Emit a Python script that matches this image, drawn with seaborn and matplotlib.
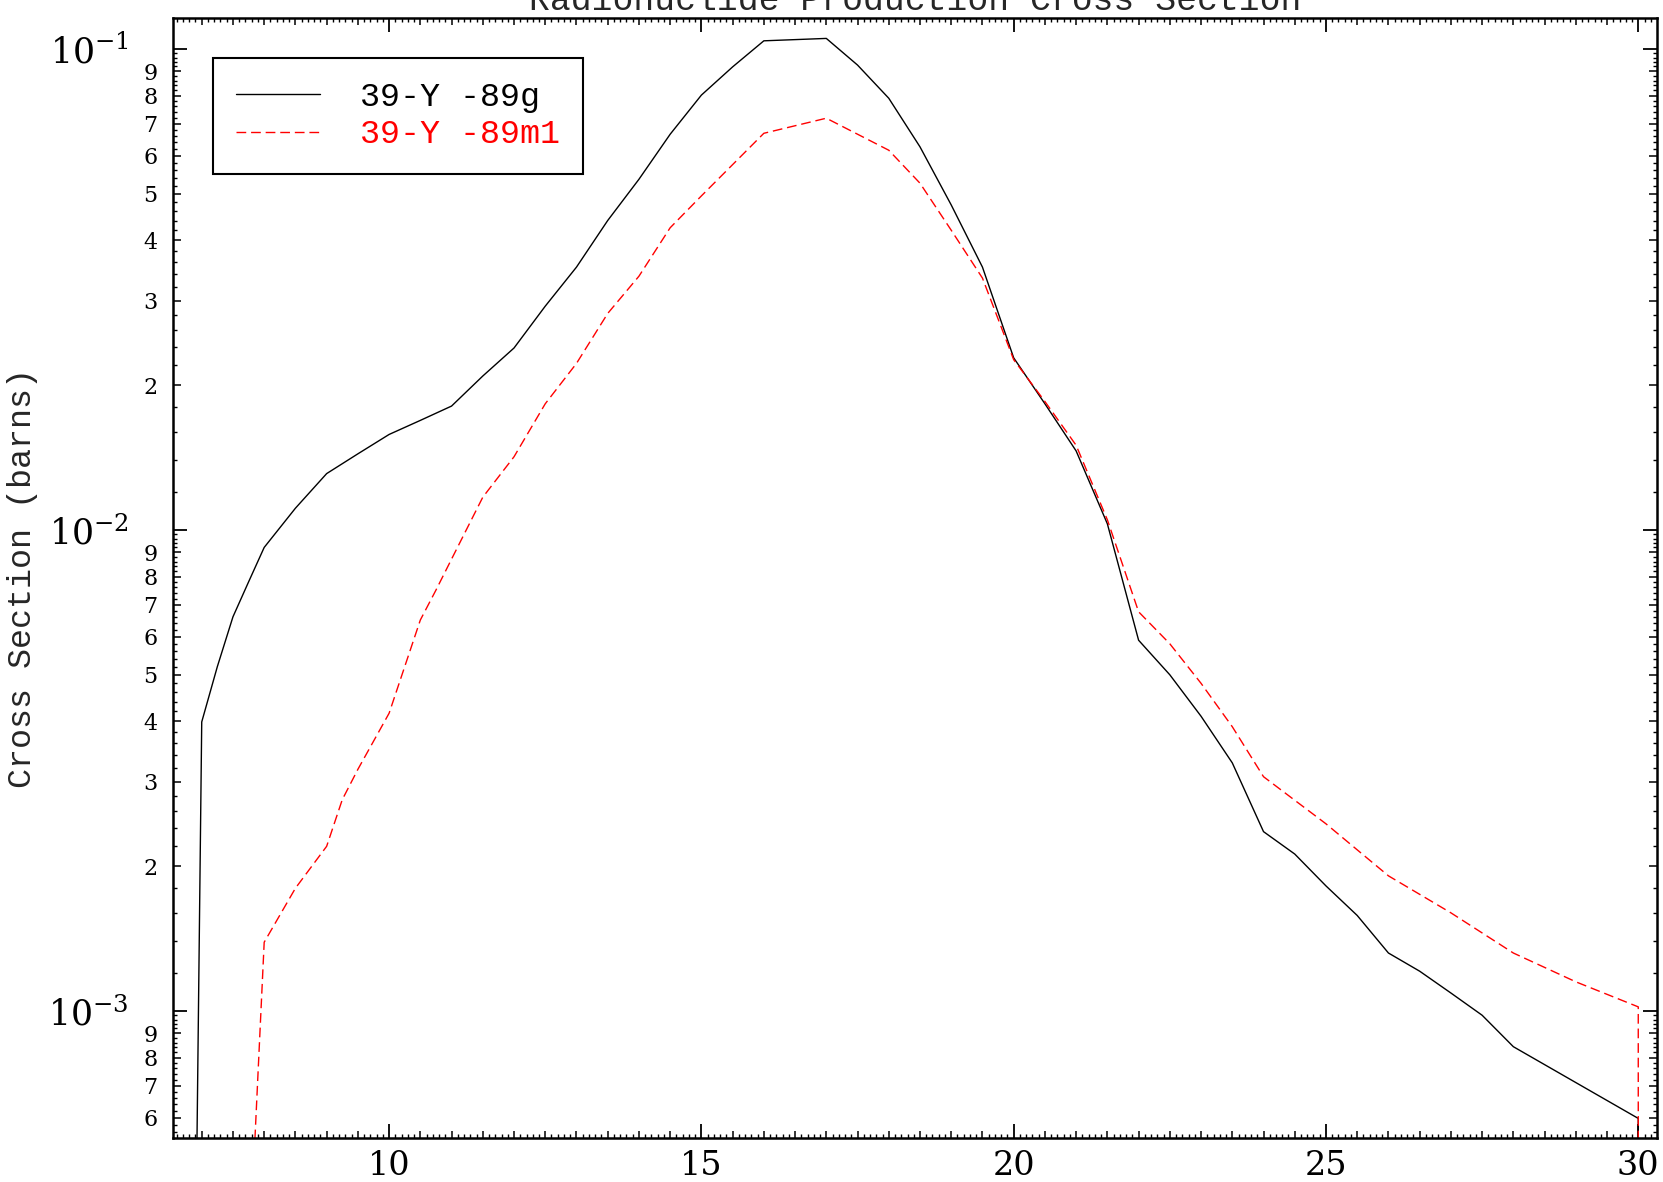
import numpy as np
import pandas as pd
import matplotlib
matplotlib.use("Agg")
import matplotlib.pyplot as plt
import seaborn as sns
from matplotlib.ticker import FixedLocator, FixedFormatter, NullFormatter, NullLocator

# ---------------- data ----------------
energy_g = [6.86, 7.0, 7.25, 7.5, 7.75, 8.0, 8.5, 9.0, 9.5, 10.0, 10.5, 11.0, 11.5, 12.0,
            12.5, 13.0, 13.5, 14.0, 14.5, 15.0, 15.5, 16.0, 17.0, 17.5, 18.0, 18.5, 19.0,
            19.5, 20.0, 20.5, 21.0, 21.5, 22.0, 22.5, 23.0, 23.5, 24.0, 24.5, 25.0, 25.5,
            26.0, 26.5, 27.0, 27.5, 28.0, 29.0, 30.0, 30.0]
xs_g = [1.0e-4, 0.00399, 0.0052, 0.0066, 0.0078, 0.0092, 0.0111, 0.0131, 0.0144, 0.0158,
        0.0169, 0.0181, 0.0209, 0.0239, 0.0292, 0.0352, 0.0440, 0.0536, 0.0665, 0.0802,
        0.0918, 0.1040, 0.1052, 0.0926, 0.0790, 0.0626, 0.0474, 0.0352, 0.0228, 0.0183,
        0.0146, 0.0103, 0.0059, 0.0050, 0.0041, 0.00328, 0.00236, 0.00212, 0.00182,
        0.00158, 0.00132, 0.00121, 0.00109, 0.00098, 0.000843, 0.00071, 0.000598, 1.0e-4]

energy_m1 = [7.8, 8.0, 8.5, 9.0, 9.25, 9.5, 10.0, 10.25, 10.5, 10.75, 11.0, 11.5, 12.0,
             12.5, 13.0, 13.5, 14.0, 14.5, 15.0, 15.5, 16.0, 17.0, 18.0, 18.5, 19.0, 19.5,
             20.0, 20.5, 21.0, 21.5, 22.0, 22.5, 23.0, 23.5, 24.0, 25.0, 26.0, 27.0, 28.0,
             29.0, 30.0, 30.0]
xs_m1 = [3.9e-4, 0.00139, 0.00180, 0.0022, 0.00275, 0.00318, 0.00416, 0.0052, 0.0065,
         0.0075, 0.0087, 0.0117, 0.0142, 0.0183, 0.0222, 0.0282, 0.0337, 0.0425, 0.0495,
         0.0575, 0.0668, 0.0718, 0.0616, 0.0526, 0.0420, 0.0334, 0.0226, 0.0185, 0.0150,
         0.0105, 0.00676, 0.0058, 0.0048, 0.0039, 0.00307, 0.00245, 0.00191, 0.0016,
         0.00132, 0.00115, 0.00102, 1.0e-4]

series_labels = ["39-Y -89g", "39-Y -89m1"]
series_colors = ["black", "red"]
x_major_ticks = [10, 15, 20, 25, 30]
title_text = "Radionuclide Production Cross Section"
ylabel_text = "Cross Section (barns)"

# ---------------- style ----------------
sns.set_theme(style="ticks")
plt.rcParams.update({
    "font.family": ["DejaVu Serif"],
    "mathtext.fontset": "dejavuserif",
    "axes.linewidth": 1.8,
    "axes.edgecolor": "black",
    "xtick.color": "black",
    "ytick.color": "black",
})

fig = plt.figure(figsize=(16.63, 11.82), dpi=100)
ax = fig.add_axes([0.10403, 0.03723, 0.89236, 0.94754])

df_g = pd.DataFrame({"energy": energy_g, "xs": xs_g})
df_m = pd.DataFrame({"energy": energy_m1, "xs": xs_m1})
sns.lineplot(data=df_g, x="energy", y="xs", ax=ax, estimator=None, sort=False,
             color=series_colors[0], lw=1.0, label=series_labels[0])
sns.lineplot(data=df_m, x="energy", y="xs", ax=ax, estimator=None, sort=False,
             color=series_colors[1], lw=1.0, label=series_labels[1])
ax.get_lines()[1].set_dashes((7, 3.5))

ax.set_yscale("log")
ax.set_xlim(6.54, 30.3)
ax.set_ylim(5.445e-4, 0.1160)
ax.set_xlabel("")

# ---- x ticks ----
ax.xaxis.set_major_locator(FixedLocator(x_major_ticks))
ax.xaxis.set_major_formatter(FixedFormatter([str(v) for v in x_major_ticks]))
half_ticks = [v / 2 for v in range(13, 61) if (v / 2) not in x_major_ticks]
ax.xaxis.set_minor_locator(FixedLocator(half_ticks))
ax.xaxis.set_minor_formatter(NullFormatter())
ax.tick_params(axis="x", which="major", direction="in", length=10, width=1.3,
               labelsize=24, pad=9, top=True, bottom=True)
ax.tick_params(axis="x", which="minor", direction="in", length=5, width=1.1,
               top=True, bottom=True)

# ---- y ticks ----
y_major = [1e-3, 1e-2, 1e-1]
ax.yaxis.set_major_locator(FixedLocator(y_major))
ax.yaxis.set_major_formatter(FixedFormatter([r"$10^{-3}$", r"$10^{-2}$", r"$10^{-1}$"]))
y_minor, y_minor_lab = [], []
for dec in [1e-4, 1e-3, 1e-2, 1e-1]:
    for k in range(2, 10):
        v = k * dec
        if 5.445e-4 <= v <= 0.1160:
            y_minor.append(v)
            y_minor_lab.append(str(k))
ax.yaxis.set_minor_locator(FixedLocator(y_minor))
ax.yaxis.set_minor_formatter(FixedFormatter(y_minor_lab))
ax.tick_params(axis="y", which="major", direction="in", length=10, width=1.3,
               labelsize=25, pad=32, left=True, right=True)
ax.tick_params(axis="y", which="minor", direction="in", length=6, width=1.1,
               labelsize=16, pad=11, left=True, right=True)

# ---- fine (unlabelled) ticks via secondary axes ----
fine_x = [round(v * 0.1, 1) for v in range(66, 303)]
fine_x = [v for v in fine_x if abs(v * 2 - round(v * 2)) > 1e-6]
fine_y = []
for dec in [1e-4, 1e-3, 1e-2, 1e-1]:
    for j in range(5, 50):
        k = j / 5
        if abs(k - round(k)) > 1e-6:
            v = k * dec
            if 5.445e-4 <= v <= 0.1160:
                fine_y.append(v)

ident = (lambda t: t, lambda t: t)
for loc in ["bottom", "top"]:
    sx = ax.secondary_xaxis(loc, functions=ident)
    sx.xaxis.set_major_locator(FixedLocator(fine_x))
    sx.xaxis.set_major_formatter(NullFormatter())
    sx.xaxis.set_minor_locator(NullLocator())
    sx.tick_params(direction="in", length=2.8, width=1.0)
    for s in sx.spines.values():
        s.set_visible(False)
for loc in ["left", "right"]:
    sy = ax.secondary_yaxis(loc, functions=ident)
    sy.yaxis.set_major_locator(FixedLocator(fine_y))
    sy.yaxis.set_major_formatter(NullFormatter())
    sy.yaxis.set_minor_locator(NullLocator())
    sy.tick_params(direction="in", length=3.0, width=1.0)
    for s in sy.spines.values():
        s.set_visible(False)

# ---- labels ----
ax.set_ylabel(ylabel_text, fontsize=24, family=["Liberation Mono"])
ax.yaxis.set_label_coords(-0.091, 0.5)
fig.text(0.5502, 1 - 10 / 1182, title_text, ha="center", va="baseline",
         fontsize=25, family=["Liberation Mono"])

# ---- legend ----
leg = ax.legend(loc="upper left", bbox_to_anchor=(0.027, 0.964), borderaxespad=0,
                prop={"family": "Liberation Mono", "size": 24},
                labelcolor="linecolor", handlelength=2.5, handletextpad=1.2,
                borderpad=0.7, labelspacing=0.2, fancybox=False, framealpha=1,
                edgecolor="black")
leg.get_frame().set_linewidth(1.5)

fig.savefig("out.png", dpi=100)
